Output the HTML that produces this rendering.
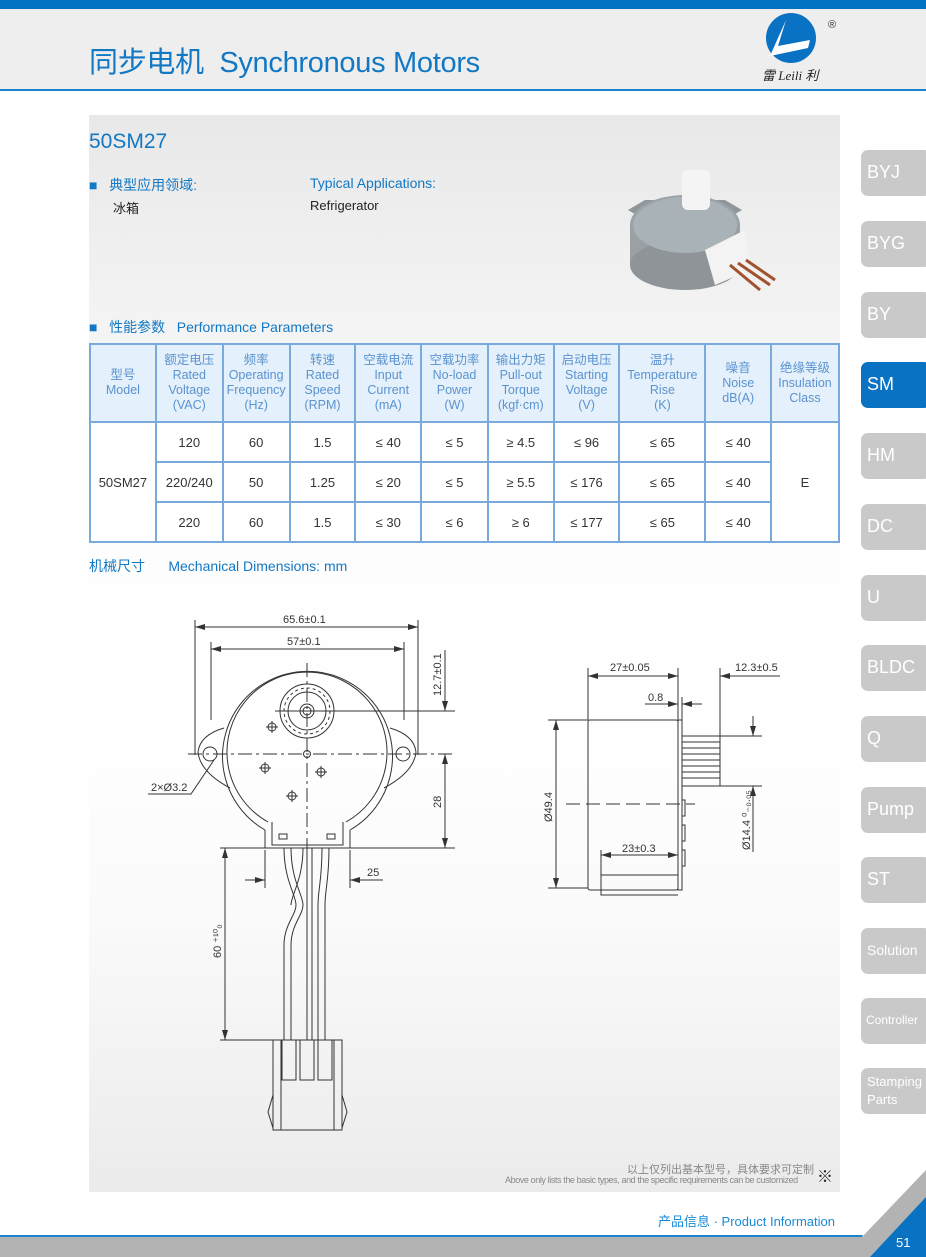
<!DOCTYPE html>
<html><head><meta charset="utf-8">
<style>
*{margin:0;padding:0;box-sizing:border-box}
body{width:926px;height:1257px;position:relative;background:#fff;font-family:"Liberation Sans","Noto Sans CJK SC",sans-serif;overflow:hidden}
.topbar{position:absolute;left:0;top:0;width:926px;height:9px;background:#0072c1}
.hdr{position:absolute;left:0;top:9px;width:926px;height:82px;background:#eeeeee;border-bottom:2px solid #1b84cc}
.title{position:absolute;left:89px;top:39px;font-size:29px;color:#1278c4;letter-spacing:-0.3px}
.box{position:absolute;left:89px;top:115px;width:751px;height:1077px;background:linear-gradient(#e8e8e8 0%,#f4f4f4 20%,#fdfdfd 40%,#fff 55%,#fafafa 75%,#ebebeb 100%)}
.blue{color:#1278c4}
.t{position:absolute;font-size:14px}
table{position:absolute;left:89px;top:343px;border-collapse:collapse;width:751px}
td{border:2px solid #7aa9dc;text-align:center;font-size:13px;color:#333;background:#fff}
tr.h td{background:#e4f0fb;color:#5b93cf;font-size:12.5px;line-height:15px;height:78px}
tr.d td{height:40px}
.tab{position:absolute;left:861px;width:70px;height:46px;border-radius:7px;background:#c9c9ca;color:#fff;font-size:18px;padding:12px 0 0 6px;white-space:nowrap;overflow:hidden}
.tab.on{background:#0a72c2}
</style></head><body>
<div class="topbar"></div>
<div class="hdr"></div>
<div class="title">同步电机&nbsp; Synchronous Motors</div>
<svg style="position:absolute;left:750px;top:12px" width="100" height="75">
<circle cx="41" cy="26" r="25" fill="#0a72c2"/>
<path d="M36 8 L28 34 L60 28 L58 36 L20 44 Z" fill="#fff"/>
<text x="78" y="16" font-size="11" fill="#333">®</text>
<text x="12" y="68" font-size="13" fill="#222" font-family="Liberation Serif,serif" font-style="italic">雷 Leili 利</text>
</svg>
<div class="box"></div>
<div class="t blue" style="left:89px;top:130px;font-size:21px">50SM27</div>
<div class="t blue" style="left:89px;top:175px">■ &nbsp;&nbsp;典型应用领域:</div>
<div class="t blue" style="left:310px;top:175px">Typical Applications:</div>
<div class="t" style="left:113px;top:198px;font-size:13px;color:#222">冰箱</div>
<div class="t" style="left:310px;top:198px;font-size:13px;color:#222">Refrigerator</div>
<svg style="position:absolute;left:620px;top:155px" width="160" height="145">
<path d="M8 55 L25 45 L105 45 L122 55 L105 65 L25 65Z" fill="#8f979b"/>
<ellipse cx="65" cy="70" rx="55" ry="30" fill="#9aa3a7"/>
<rect x="10" y="70" width="110" height="40" fill="#9aa0a4"/>
<ellipse cx="65" cy="110" rx="55" ry="25" fill="#8e9498"/>
<ellipse cx="65" cy="70" rx="52" ry="28" fill="#a9b2b6"/>
<rect x="62" y="15" width="28" height="40" rx="6" fill="#f4f4f4"/>
<path d="M85 95 L125 75 L130 115 L95 130 Z" fill="#f3f3f3"/>
<path d="M110 110 L140 135 M118 108 L150 130 M126 105 L155 125" stroke="#a0522d" stroke-width="3"/>
</svg>
<div class="t blue" style="left:89px;top:317px">■ &nbsp;&nbsp;性能参数 &nbsp;&nbsp;Performance Parameters</div>
<table>
<colgroup><col style="width:66px"><col style="width:67px"><col style="width:67px"><col style="width:66px"><col style="width:66px"><col style="width:67px"><col style="width:66px"><col style="width:66px"><col style="width:86px"><col style="width:66px"><col style="width:68px"></colgroup>
<tr class="h"><td>型号<br>Model</td><td>额定电压<br>Rated<br>Voltage<br>(VAC)</td><td>频率<br>Operating<br>Frequency<br>(Hz)</td><td>转速<br>Rated<br>Speed<br>(RPM)</td><td>空载电流<br>Input<br>Current<br>(mA)</td><td>空载功率<br>No-load<br>Power<br>(W)</td><td>输出力矩<br>Pull-out<br>Torque<br>(kgf·cm)</td><td>启动电压<br>Starting<br>Voltage<br>(V)</td><td>温升<br>Temperature<br>Rise<br>(K)</td><td>噪音<br>Noise<br>dB(A)</td><td>绝缘等级<br>Insulation<br>Class</td></tr>
<tr class="d"><td rowspan="3">50SM27</td><td>120</td><td>60</td><td>1.5</td><td>≤ 40</td><td>≤ 5</td><td>≥ 4.5</td><td>≤ 96</td><td>≤ 65</td><td>≤ 40</td><td rowspan="3">E</td></tr>
<tr class="d"><td>220/240</td><td>50</td><td>1.25</td><td>≤ 20</td><td>≤ 5</td><td>≥ 5.5</td><td>≤ 176</td><td>≤ 65</td><td>≤ 40</td></tr>
<tr class="d"><td>220</td><td>60</td><td>1.5</td><td>≤ 30</td><td>≤ 6</td><td>≥ 6</td><td>≤ 177</td><td>≤ 65</td><td>≤ 40</td></tr>
</table>
<div class="t blue" style="left:89px;top:556px">机械尺寸 &nbsp;&nbsp;&nbsp;&nbsp;&nbsp;Mechanical Dimensions: mm</div>

<svg style="position:absolute;left:0;top:0" width="926" height="1257" font-family="Liberation Sans,sans-serif" font-size="11" fill="none" stroke="#333" stroke-width="1">
<defs><marker id="a" markerWidth="10" markerHeight="6" refX="10" refY="3" orient="auto-start-reverse"><path d="M0 0 L10 3 L0 6Z" fill="#333" stroke="none"/></marker></defs>
<path d="M224 728 Q200 735 198 752 Q200 772 230 788" />
<path d="M390 728 Q414 735 416 752 Q414 772 384 788" />
<circle cx="210" cy="754" r="7"/><circle cx="403" cy="754" r="7"/>
<path d="M265 830 A85 85 0 1 1 350 830"/>
<path d="M268 822 A80 80 0 1 1 346 822"/>
<path d="M265 830 L265 848 L350 848 L350 830"/>
<path d="M272 822 L272 845 L343 845 L343 822"/>
<rect x="279" y="834" width="8" height="5"/><rect x="327" y="834" width="8" height="5"/>
<circle cx="307" cy="711" r="27"/><circle cx="307" cy="711" r="19"/>
<circle cx="307" cy="711" r="23" stroke-dasharray="3 3"/>
<circle cx="307" cy="711" r="7"/><circle cx="307" cy="711" r="4"/>
<circle cx="307" cy="754" r="3.5"/>
<g><circle cx="272" cy="727" r="4"/><path d="M266 727h12M272 721v12"/>
<circle cx="265" cy="768" r="4"/><path d="M259 768h12M265 762v12"/>
<circle cx="321" cy="772" r="4"/><path d="M315 772h12M321 766v12"/>
<circle cx="292" cy="796" r="4"/><path d="M286 796h12M292 790v12"/></g>
<path d="M188 754 H455 M307 663 V855" stroke-dasharray="14 4 3 4"/>
<path d="M275 711 H455"/>
<path d="M195 620 V755 M418 620 V755 M211 642 V720 M404 642 V720"/>
<path d="M195 627 H418" marker-start="url(#a)" marker-end="url(#a)"/>
<path d="M211 649 H404" marker-start="url(#a)" marker-end="url(#a)"/>
<path d="M445 650 V711" marker-end="url(#a)"/>
<path d="M445 754 V848" marker-start="url(#a)" marker-end="url(#a)"/>
<path d="M350 848 H455"/>
<path d="M148 794 H191 L214 760" />
<path d="M284 848 C284 880 296 895 296 905 C296 915 284 925 284 945 V1040 M291 848 C291 880 303 895 303 905 C303 915 291 925 291 945 V1040"/>
<path d="M303 848 C303 880 291 895 291 905 M307 848 V1040 M312 848 V1040"/>
<path d="M322 848 C322 880 318 890 318 905 V1040 M329 848 C329 880 325 890 325 905 V1040"/>
<path d="M220 848 H265 M220 1040 H282"/>
<path d="M225 848 V1040" marker-start="url(#a)" marker-end="url(#a)"/>
<path d="M265 850 V888 M350 850 V888"/>
<path d="M245 880 H265" marker-end="url(#a)"/><path d="M383 880 H350" marker-end="url(#a)"/>
<rect x="273" y="1040" width="69" height="90"/>
<path d="M281 1040 V1130 M334 1040 V1130"/>
<rect x="282" y="1040" width="14" height="40"/><rect x="300" y="1040" width="14" height="40"/><rect x="318" y="1040" width="14" height="40"/>
<path d="M273 1095 L268 1112 L273 1128 M342 1095 L347 1112 L342 1128"/>
<rect x="588" y="720" width="90" height="170" rx="2"/>
<rect x="678" y="720" width="4" height="170"/>
<rect x="682" y="736" width="38" height="50"/>
<path d="M682 742 H720 M682 748 H720 M682 754 H720 M682 760 H720 M682 766 H720 M682 772 H720 M682 778 H720"/>
<path d="M601 850 V895 H678 M601 875 H678"/>
<path d="M682 800 h3 v16 h-3 M682 825 h3 v16 h-3 M682 850 h3 v16 h-3"/>
<path d="M566 804 H695" stroke-dasharray="14 6"/>
<path d="M588 668 V720 M678 668 V720 M720 668 V736 M720 676 H780"/>
<path d="M588 676 H678" marker-start="url(#a)" marker-end="url(#a)"/>
<path d="M740 676 H720" marker-end="url(#a)"/>
<path d="M645 704 H678" marker-end="url(#a)"/><path d="M702 704 H682" marker-end="url(#a)"/>
<path d="M682 697 V720"/>
<path d="M548 720 H588 M548 888 H588"/>
<path d="M556 720 V888" marker-start="url(#a)" marker-end="url(#a)"/>
<path d="M720 736 H762 M720 786 H762"/>
<path d="M753 716 V736" marker-end="url(#a)"/><path d="M753 806 V786" marker-end="url(#a)"/>
<path d="M753 786 V852"/>
<path d="M601 855 H678" marker-start="url(#a)" marker-end="url(#a)"/>
<g fill="#333" stroke="none">
<text x="283" y="623">65.6±0.1</text><text x="287" y="645">57±0.1</text>
<text x="441" y="696" transform="rotate(-90 441 696)">12.7±0.1</text>
<text x="441" y="808" transform="rotate(-90 441 808)">28</text>
<text x="151" y="791">2×Ø3.2</text>
<text x="367" y="876">25</text>
<text x="221" y="958" transform="rotate(-90 221 958)">60 ⁺¹⁰₀</text>
<text x="610" y="671">27±0.05</text><text x="735" y="671">12.3±0.5</text>
<text x="648" y="701">0.8</text>
<text x="552" y="822" transform="rotate(-90 552 822)">Ø49.4</text>
<text x="750" y="850" transform="rotate(-90 750 850)">Ø14.4 ⁰₋₀.₀₅</text>
<text x="622" y="852">23±0.3</text>
</g>
</svg>

<div class="t" style="left:627px;top:1161px;font-size:11px;color:#888">以上仅列出基本型号，具体要求可定制</div>
<div class="t" style="left:505px;top:1175px;font-size:9px;color:#888;letter-spacing:-0.4px">Above only lists the basic types, and the specific requirements can be customized</div>
<div class="t" style="left:817px;top:1163px;font-size:16px;color:#222">※</div>
<div class="t blue" style="left:658px;top:1211px;font-size:13px;color:#1a8ad6">产品信息 · Product Information</div>
<svg style="position:absolute;left:0;top:1170px" width="926" height="87">
<polygon points="0,67 862,67 926,0 926,87 0,87" fill="#b3b3b3"/>
<polygon points="0,67 862,67 863,65 0,65" fill="#1b84cc"/>
<polygon points="926,27 926,87 870,87" fill="#0a72c2"/>
<text x="896" y="77" font-size="13" fill="#fff" font-family="Liberation Sans,sans-serif">51</text>
</svg>

<div class="tab" style="top:150px">BYJ</div>
<div class="tab" style="top:221px">BYG</div>
<div class="tab" style="top:292px">BY</div>
<div class="tab on" style="top:362px">SM</div>
<div class="tab" style="top:433px">HM</div>
<div class="tab" style="top:504px">DC</div>
<div class="tab" style="top:575px">U</div>
<div class="tab" style="top:645px">BLDC</div>
<div class="tab" style="top:716px">Q</div>
<div class="tab" style="top:787px">Pump</div>
<div class="tab" style="top:857px">ST</div>
<div class="tab" style="top:928px;font-size:14px;padding-top:14px">Solution</div>
<div class="tab" style="top:998px;font-size:12px;padding-top:15px;padding-left:5px">Controller</div>
<div class="tab" style="top:1068px;font-size:13px;line-height:18px;padding-top:5px">Stamping<br>Parts</div>
</body></html>
